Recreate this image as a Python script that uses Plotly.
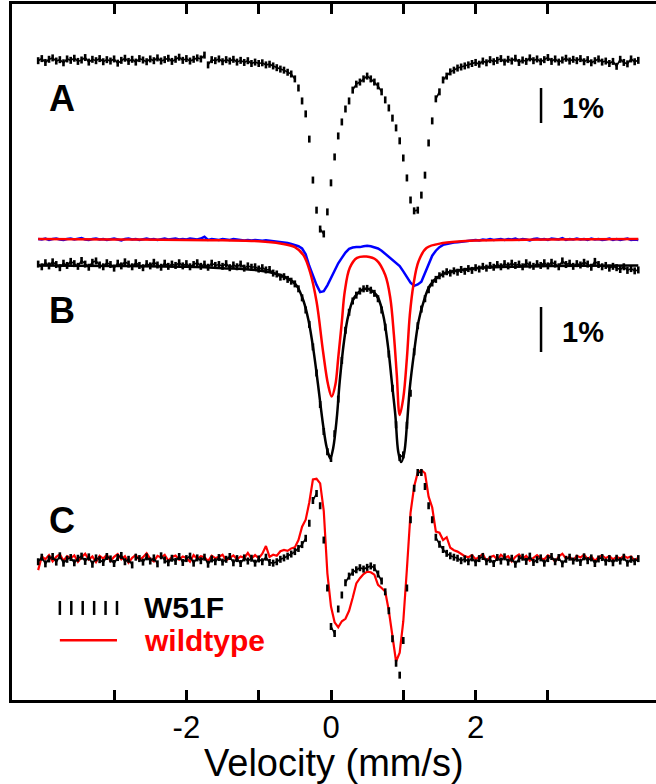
import numpy as np
import plotly.graph_objects as go

# ---------------- data ----------------
V_START, V_END = -4.05, 4.25   # velocity grid of the measured spectra (mm/s), 0.05 step

# A: W51F spectrum, relative transmission (%)
A_T = [
    99.98, 100.04, 99.93, 100.02, 100.06, 99.97, 100.01, 99.92, 100.03, 99.99,
    100.05, 99.96, 100.00, 100.07, 99.94, 100.02, 99.98, 100.04, 99.95, 100.01,
    99.97, 100.03, 99.91, 99.99, 100.05, 99.96, 100.02, 99.94, 100.04, 100.00,
    99.95, 100.03, 99.98, 100.06, 99.97, 100.01, 100.05, 99.96, 100.02, 100.08,
    99.99, 100.04, 99.97, 100.02, 100.06, 100.03, 100.14, 99.86, 100.01, 99.98,
    100.03, 99.95, 100.01, 99.97, 100.02, 99.94, 99.99, 99.93, 99.98, 99.90,
    99.94, 99.90, 99.92, 99.86, 99.88, 99.83, 99.78, 99.74, 99.71, 99.65,
    99.60, 99.46, 99.20, 98.83, 98.46, 97.74, 96.57, 95.71, 95.17, 95.03,
    95.66, 96.49, 97.23, 97.83, 98.23, 98.60, 98.83, 99.14, 99.31, 99.37,
    99.46, 99.54, 99.46, 99.37, 99.26, 99.09, 98.86, 98.63, 98.34, 98.06,
    97.69, 97.20, 96.63, 96.00, 95.69, 95.71, 96.14, 96.71, 97.63, 98.26,
    98.89, 99.09, 99.43, 99.54, 99.66, 99.71, 99.77, 99.80, 99.83, 99.86,
    99.90, 99.93, 99.88, 99.97, 99.92, 100.01, 99.95, 99.99, 100.04, 99.94,
    100.02, 99.97, 100.05, 99.93, 100.00, 99.96, 100.06, 99.98, 100.03, 99.95,
    100.01, 100.07, 99.96, 100.03, 99.94, 100.00, 100.05, 99.97, 100.02, 99.98,
    100.04, 99.95, 100.01, 99.92, 99.98, 100.03, 99.94, 99.97, 99.90, 99.96,
    99.82, 100.02, 99.93, 99.89, 100.03, 99.95, 99.99,
]

# B: W51F spectrum (black data), relative transmission (%)
B_T = [
    100.02, 99.96, 100.05, 99.98, 100.07, 100.01, 99.94, 100.04, 99.99, 100.08,
    100.03, 99.97, 100.10, 100.02, 99.95, 100.06, 100.09, 100.00, 99.96, 100.05,
    100.01, 99.93, 100.04, 99.98, 100.07, 100.02, 99.96, 100.05, 99.99, 99.94,
    100.03, 99.98, 100.06, 100.00, 99.95, 100.04, 99.97, 100.02, 99.99, 100.05,
    99.98, 100.03, 99.96, 100.01, 100.05, 99.97, 100.02, 99.95, 100.04, 99.99,
    100.01, 99.97, 100.03, 99.94, 100.00, 99.96, 100.02, 99.93, 99.98, 99.95,
    99.96, 99.91, 99.94, 99.89, 99.90, 99.82, 99.80, 99.73, 99.74, 99.68,
    99.64, 99.58, 99.47, 99.27, 99.00, 98.68, 98.18, 97.60, 96.90, 96.30,
    95.85, 95.70, 96.25, 97.02, 97.88, 98.55, 98.95, 99.20, 99.33, 99.42,
    99.47, 99.48, 99.44, 99.37, 99.25, 99.00, 98.62, 98.02, 97.26, 96.45,
    95.72, 95.78, 96.44, 97.15, 98.07, 98.65, 99.02, 99.25, 99.45, 99.60,
    99.68, 99.76, 99.80, 99.85, 99.82, 99.87, 99.84, 99.90, 99.86, 99.92,
    99.88, 99.94, 99.91, 99.97, 99.93, 99.99, 99.95, 100.01, 99.96, 100.03,
    99.98, 100.04, 99.99, 100.02, 99.96, 100.05, 100.00, 99.97, 100.03, 99.99,
    100.05, 99.98, 100.06, 100.02, 99.96, 100.09, 100.01, 100.04, 99.97, 100.03,
    100.00, 100.06, 100.02, 99.95, 100.08, 100.01, 99.96, 99.99, 99.93, 99.97,
    99.94, 99.90, 99.96, 99.88, 99.92, 99.87, 99.89,
]

# B: blue component spectrum, relative transmission (%)
B_BLUE = [
    100.00, 99.99, 100.01, 99.98, 100.00, 100.01, 99.99, 99.98, 100.00, 100.01,
    99.99, 100.00, 100.02, 99.99, 99.98, 100.00, 100.01, 99.99, 100.00, 99.98,
    100.00, 100.01, 99.99, 99.97, 100.00, 100.01, 99.99, 100.00, 99.98, 100.00,
    100.01, 99.99, 100.00, 99.98, 100.00, 100.01, 99.99, 100.00, 100.01, 99.99,
    100.00, 99.99, 100.01, 100.00, 99.99, 100.01, 100.05, 99.98, 100.00, 99.99,
    99.98, 100.00, 99.99, 99.98, 100.00, 99.99, 99.98, 99.97, 99.98, 99.97,
    99.98, 99.97, 99.96, 99.97, 99.96, 99.96, 99.95, 99.93, 99.92, 99.91,
    99.89, 99.87, 99.84, 99.79, 99.66, 99.40, 99.17, 98.98, 98.82, 98.84,
    98.97, 99.14, 99.32, 99.46, 99.58, 99.70, 99.78, 99.81, 99.82, 99.82,
    99.84, 99.85, 99.84, 99.82, 99.79, 99.74, 99.67, 99.61, 99.55, 99.48,
    99.40, 99.28, 99.16, 99.03, 98.96, 98.99, 99.05, 99.24, 99.45, 99.63,
    99.74, 99.82, 99.87, 99.89, 99.91, 99.92, 99.93, 99.94, 99.95, 99.96,
    99.97, 99.98, 99.97, 99.99, 99.98, 100.00, 99.98, 99.99, 100.00, 99.98,
    100.00, 99.99, 100.01, 99.98, 100.00, 99.99, 99.97, 100.00, 100.01, 99.99,
    100.00, 99.98, 100.01, 100.00, 99.99, 100.02, 99.98, 100.00, 99.99, 100.01,
    99.99, 100.00, 99.98, 100.01, 99.99, 100.00, 99.98, 99.99, 100.01, 99.98,
    100.00, 99.98, 99.99, 100.01, 99.98, 99.99, 99.98,
]

# B: black fit curve (smooth)
FIT_V = [-4.05, -3.0, -2.0, -1.5, -1.0, -0.75, -0.57, -0.47, -0.38, -0.31, -0.24, -0.18,
         -0.11, -0.06, -0.01, 0.03, 0.08, 0.12, 0.18, 0.24, 0.33, 0.49, 0.63, 0.72, 0.79,
         0.84, 0.89, 0.93, 0.97, 1.01, 1.05, 1.09, 1.15, 1.21, 1.28, 1.37, 1.51, 1.65,
         2.0, 2.5, 3.0, 4.25]
FIT_T = [99.99, 99.98, 99.96, 99.93, 99.88, 99.80, 99.68, 99.53, 99.20, 98.76, 98.08, 97.35,
         96.45, 95.95, 95.70, 95.93, 96.60, 97.40, 98.30, 98.88, 99.30, 99.47, 99.33, 98.90,
         98.17, 97.42, 96.66, 95.85, 95.62, 95.80, 96.44, 97.27, 98.07, 98.74, 99.18, 99.55,
         99.77, 99.85, 99.93, 99.96, 99.98, 99.99]

# B: red wildtype curve (smooth)
WT_V = [-4.05, -3.0, -2.0, -1.5, -1.0, -0.7, -0.5, -0.38, -0.29, -0.20, -0.11, -0.04, 0.01,
        0.06, 0.10, 0.15, 0.19, 0.26, 0.36, 0.49, 0.63, 0.75, 0.82, 0.87, 0.91, 0.95, 1.00,
        1.05, 1.09, 1.14, 1.21, 1.32, 1.55, 1.92, 2.5, 3.0, 4.25]
WT_T = [100.00, 99.99, 99.98, 99.97, 99.95, 99.90, 99.82, 99.64, 99.27, 98.61, 97.50, 96.76,
        96.50, 96.76, 97.36, 98.16, 98.83, 99.36, 99.58, 99.61, 99.53, 99.20, 98.69, 97.87,
        96.98, 96.09, 96.47, 97.36, 98.31, 98.98, 99.50, 99.80, 99.91, 99.96, 99.98, 99.99,
        100.00]

# C: difference spectra (%), W51F (black) and wildtype (red)
C_W51F = [
    -0.05, 0.08, -0.11, 0.03, 0.10, -0.06, 0.12, -0.09, 0.02, 0.07,
    -0.08, 0.05, 0.11, -0.04, 0.09, -0.12, 0.06, 0.01, -0.07, 0.10,
    0.03, -0.10, 0.07, 0.13, -0.05, 0.02, -0.14, 0.08, 0.04, -0.06,
    0.09, -0.03, 0.06, -0.11, 0.12, 0.00, -0.08, 0.05, -0.04, 0.10,
    -0.07, 0.04, 0.11, -0.09, 0.06, -0.02, 0.08, -0.12, 0.03, -0.05,
    0.07, -0.06, 0.02, 0.10, -0.08, 0.04, -0.10, 0.06, -0.03, 0.05,
    -0.09, 0.03, -0.05, 0.08, -0.07, -0.09, -0.05, 0.02, 0.06, 0.11,
    0.17, 0.24, 0.33, 0.44, 0.62, 1.05, 1.70, 1.90, 1.55, 0.57,
    -0.80, -1.90, -2.10, -1.40, -1.00, -0.65, -0.46, -0.35, -0.28, -0.22,
    -0.26, -0.21, -0.17, -0.22, -0.40, -0.60, -0.91, -1.45, -2.25, -2.95,
    -3.29, -2.30, -0.80, 1.15, 2.05, 2.50, 2.50, 2.10, 1.55, 1.15,
    0.65, 0.45, 0.30, 0.19, 0.12, 0.08, 0.05, -0.02, 0.03, -0.05,
    0.06, -0.08, 0.04, 0.10, -0.05, 0.02, -0.10, 0.07, -0.03, 0.09,
    -0.06, 0.05, -0.12, 0.03, 0.08, -0.04, 0.11, -0.07, 0.01, 0.06,
    -0.09, 0.04, 0.10, -0.05, 0.07, -0.11, 0.02, 0.08, -0.03, 0.05,
    -0.07, 0.09, -0.02, 0.06, -0.10, 0.03, 0.07, -0.06, 0.04, -0.08,
    0.05, -0.03, 0.08, -0.09, 0.02, -0.05, 0.04,
]
C_WT = [
    -0.29, 0.10, 0.02, 0.14, -0.04, 0.09, 0.16, -0.02, 0.11, 0.05,
    0.13, -0.05, 0.08, 0.18, 0.01, 0.10, -0.06, 0.12, 0.04, 0.15,
    -0.03, 0.09, 0.17, 0.02, 0.11, -0.08, 0.06, 0.14, 0.00, 0.08,
    0.19, 0.03, -0.04, 0.12, 0.07, 0.15, -0.02, 0.09, 0.13, 0.01,
    0.10, 0.06, -0.05, 0.14, 0.03, 0.11, 0.08, -0.03, 0.12, 0.05,
    0.09, 0.15, -0.01, 0.07, 0.13, 0.02, 0.10, 0.06, 0.20, 0.04,
    0.14, 0.05, 0.18, 0.40, 0.09, 0.15, 0.12, 0.25, 0.29, 0.26,
    0.33, 0.36, 0.57, 0.95, 1.15, 1.65, 2.30, 2.32, 2.19, 1.40,
    -0.38, -1.33, -1.78, -1.92, -1.75, -1.68, -1.45, -1.08, -0.67, -0.52,
    -0.40, -0.33, -0.35, -0.42, -0.71, -0.80, -0.90, -1.45, -2.20, -2.90,
    -2.65, -1.75, -0.25, 1.35, 2.10, 2.50, 2.57, 2.48, 1.81, 1.50,
    0.81, 0.78, 0.57, 0.65, 0.35, 0.28, 0.24, 0.18, 0.11, 0.08,
    0.14, 0.02, 0.10, 0.17, -0.03, 0.08, 0.12, 0.01, 0.15, 0.06,
    0.11, -0.04, 0.09, 0.16, 0.03, 0.12, -0.02, 0.07, 0.14, 0.05,
    0.02, 0.13, 0.08, -0.05, 0.10, 0.18, 0.04, 0.09, -0.01, 0.12,
    0.07, 0.15, 0.03, 0.10, -0.03, 0.08, 0.13, 0.05, 0.11, 0.02,
    0.09, 0.04, 0.12, 0.06, 0.10, -0.02, 0.07,
]

X_TICKS = [-3, -2, -1, 0, 1, 2, 3]
X_TICK_TEXT = ["", "-2", "", "0", "", "2", ""]

# ---------------- layout constants (vertical stacking) ----------------
Y_RANGE = [0, 19.886]
X_RANGE = [-4.412, 4.495]
OFF_A, SC_A = 18.286, 1.0          # panel A baseline, units per 1 %
OFF_B, SC_B = 12.429, 45.0 / 35.0  # panel B data baseline, units per 1 %
OFF_B2 = 13.171                    # panel B component baseline
OFF_C, SC_C = 4.0, 1.0             # panel C baseline
JOIN_MAX = 0.22                    # join neighbouring data dashes when closer than this

BLACK, RED, BLUE = "#000000", "#ff0000", "#0000ff"
FONT = "Liberation Sans, Arial, sans-serif"


def grid(vals):
    return np.linspace(V_START, V_END, len(vals))


def place(vals, off, sc, base=100.0):
    return off + (np.asarray(vals) - base) * sc


def joined(x, y):
    """Polyline through the points, broken where neighbouring points are far apart."""
    xs, ys = [x[0]], [y[0]]
    for i in range(1, len(x)):
        if abs(y[i] - y[i - 1]) > JOIN_MAX:
            xs.append(None)
            ys.append(None)
        xs.append(x[i])
        ys.append(y[i])
    return xs, ys


fig = go.Figure()

dash_marker = dict(symbol="line-ns", size=5, color=BLACK, line=dict(color=BLACK, width=2.6))


def add_dash_series(vals, off, sc, base=100.0):
    x = grid(vals)
    y = place(vals, off, sc, base)
    jx, jy = joined(list(x), list(y))
    fig.add_trace(go.Scatter(x=jx, y=jy, mode="lines", connectgaps=False,
                             line=dict(color=BLACK, width=1.6), hoverinfo="skip"))
    fig.add_trace(go.Scatter(x=x, y=y, mode="markers", marker=dash_marker, hoverinfo="skip"))


# Panel A
add_dash_series(A_T, OFF_A, SC_A)

# Panel B
fig.add_trace(go.Scatter(x=FIT_V, y=place(FIT_T, OFF_B, SC_B), mode="lines",
                         line=dict(color=BLACK, width=2.5, shape="spline"), hoverinfo="skip"))
add_dash_series(B_T, OFF_B, SC_B)
fig.add_trace(go.Scatter(x=grid(B_BLUE), y=place(B_BLUE, OFF_B2, SC_B), mode="lines",
                         line=dict(color=BLUE, width=2.5), hoverinfo="skip"))
fig.add_trace(go.Scatter(x=WT_V, y=place(WT_T, OFF_B2, SC_B), mode="lines",
                         line=dict(color=RED, width=2.5, shape="spline"), hoverinfo="skip"))

# Panel C
fig.add_trace(go.Scatter(x=grid(C_WT), y=place(C_WT, OFF_C, SC_C, base=0.0), mode="lines",
                         line=dict(color=RED, width=2.2), hoverinfo="skip"))
add_dash_series(C_W51F, OFF_C, SC_C, base=0.0)

# Legend drawn inside the plot
LEG_X0, LEG_X1 = -3.75, -2.96
LEG_Y1, LEG_Y2 = 2.63, 1.71
fig.add_trace(go.Scatter(x=np.linspace(LEG_X0, LEG_X1, 6), y=[LEG_Y1] * 6, mode="markers",
                         marker=dict(symbol="line-ns", size=10, color=BLACK,
                                     line=dict(color=BLACK, width=2.5)), hoverinfo="skip"))
fig.add_trace(go.Scatter(x=[LEG_X0, LEG_X1], y=[LEG_Y2, LEG_Y2], mode="lines",
                         line=dict(color=RED, width=2.5), hoverinfo="skip"))

# Scale bars (1 %)
BAR_X = 2.905
for yc, sc in [(16.986, SC_A), (10.586, SC_B)]:
    fig.add_trace(go.Scatter(x=[BAR_X, BAR_X], y=[yc - sc / 2, yc + sc / 2], mode="lines",
                             line=dict(color=BLACK, width=2.5), hoverinfo="skip"))

ann = []
for txt, y in [("A", 17.2), ("B", 11.14), ("C", 5.14)]:
    ann.append(dict(x=-3.72, y=y, text=txt, showarrow=False, xanchor="center", yanchor="middle",
                    font=dict(family=FONT, size=36, color=BLACK, weight="bold")))
for y in [16.91, 10.51]:
    ann.append(dict(x=3.49, y=y, text="1%", showarrow=False, xanchor="center", yanchor="middle",
                    font=dict(family=FONT, size=29, color=BLACK, weight="bold")))
ann.append(dict(x=-2.61, y=LEG_Y1, text="W51F", showarrow=False, xanchor="left", yanchor="middle",
                font=dict(family=FONT, size=30, color=BLACK, weight="bold")))
ann.append(dict(x=-2.61, y=LEG_Y2, text="wildtype", showarrow=False, xanchor="left", yanchor="middle",
                font=dict(family=FONT, size=30, color=RED, weight="bold")))
ann.append(dict(x=0.5, y=-0.0905, xref="paper", yref="paper", text="Velocity (mm/s)",
                showarrow=False, xanchor="center", yanchor="middle",
                font=dict(family=FONT, size=38, color=BLACK)))

fig.update_layout(
    width=656, height=784,
    margin=dict(l=12, r=0, t=4, b=84),
    paper_bgcolor="white", plot_bgcolor="white",
    showlegend=False,
    annotations=ann,
    xaxis=dict(range=X_RANGE, showgrid=False, zeroline=False, showline=True, linecolor=BLACK,
               linewidth=2.5, mirror="ticks", ticks="inside", ticklen=10, tickwidth=2.5,
               tickcolor=BLACK, tickvals=X_TICKS, ticktext=X_TICK_TEXT, ticklabelstandoff=-2,
               tickfont=dict(family=FONT, size=31, color=BLACK)),
    yaxis=dict(range=Y_RANGE, showgrid=False, zeroline=False, showline=True, linecolor=BLACK,
               linewidth=2.5, showticklabels=False, ticks=""),
)

fig.write_html("out.html", config={"displayModeBar": False},
               post_script="document.body.style.margin='0';document.body.style.overflow='hidden';")
